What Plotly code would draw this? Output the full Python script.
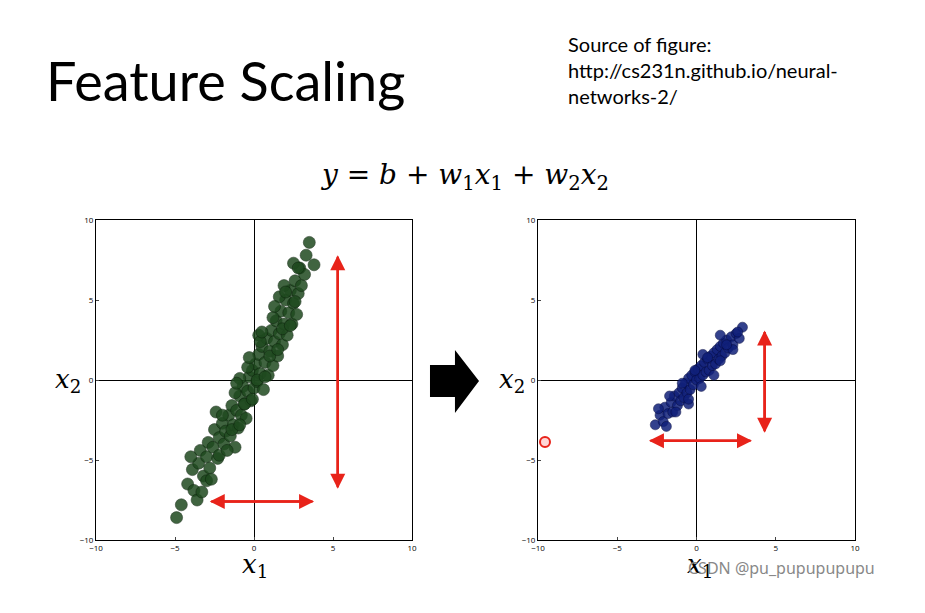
import plotly.graph_objects as go

left_x1 = [-4.6,-4.2,-3.8,-3.9,-3.5,-3.2,-3.4,-3.0,-2.8,-2.9,-2.6,-2.5,-2.3,-2.2,-2.0,-1.9,-1.8,-1.6,-1.5,-1.4,-1.3,-1.1,-1.0,-0.9,-0.8,-0.7,-0.6,-0.5,-0.4,-0.3,-0.2,-0.1,0.0,0.1,0.2,0.3,0.4,0.5,0.6,0.7,0.8,0.9,1.0,1.1,1.2,1.3,1.4,1.5,1.6,1.7,1.8,1.9,2.0,2.1,2.2,2.3,2.4,2.5,2.6,2.7,2.8,2.9,3.0,3.2,3.3,3.5,-3.6,-1.2,1.6,-4.0,2.5,3.8,-4.9,-2.4,0.3,1.9,-0.9,
           -2.0,-1.2,-0.4,0.4,1.2,2.0,2.8,-3.0,-2.2,-1.4,-0.6,0.2,1.0,1.8,2.6,-1.7,-0.9,-0.1,0.7,1.5,2.3,-2.7,-3.3,1.3,0.5,-0.3,-1.1]
left_x2 = [-7.8,-6.5,-6.9,-5.6,-5.2,-6.0,-4.4,-4.8,-5.5,-3.9,-4.2,-3.1,-4.9,-3.6,-2.7,-4.0,-3.2,-2.2,-3.5,-1.6,-2.8,-1.9,-3.0,-1.0,-2.2,-0.4,-1.5,-2.4,-0.7,0.2,-1.3,0.6,-0.5,1.0,-0.1,1.6,0.4,2.1,-0.6,1.1,2.6,0.3,1.8,3.1,0.9,2.4,3.7,1.5,2.9,4.3,2.2,3.5,5.0,2.8,4.2,5.6,3.5,4.8,6.2,4.1,5.4,7.0,5.9,6.6,7.8,8.6,-7.5,-4.2,5.2,-4.8,7.3,7.2,-8.6,-2.0,2.8,5.9,0.1,
           -2.2,-0.8,0.8,2.4,3.9,5.5,7.0,-6.3,-4.7,-3.1,-1.5,0.0,1.5,3.2,4.9,-4.4,-2.8,-1.2,0.2,1.9,3.4,-6.2,-7.0,4.6,3.0,1.4,-0.2]
right_x1 = [-2.6,-2.3,-2.1,-2.0,-1.8,-1.6,-1.5,-1.4,-1.2,-1.1,-1.0,-0.9,-0.8,-0.7,-0.6,-0.5,-0.4,-0.3,-0.2,-0.1,0.0,0.1,0.2,0.3,0.4,0.5,0.6,0.7,0.8,0.9,1.0,1.1,1.2,1.3,1.4,1.5,1.6,1.7,1.8,1.9,2.0,2.2,2.3,2.5,2.7,2.9,-1.9,1.5,0.4,-0.5,
            -1.7,-0.9,-0.1,0.7,1.5,2.3,-1.3,-0.5,0.3,1.1,1.9,-2.4,2.6]
right_x2 = [-2.8,-2.2,-2.6,-1.7,-2.1,-1.4,-2.0,-1.0,-1.6,-0.8,-1.3,-0.5,-1.1,-0.2,-0.8,0.1,-0.6,0.3,-0.3,0.5,0.0,0.7,0.1,0.9,0.3,1.1,0.5,1.3,0.6,1.5,0.9,1.7,1.0,1.9,1.3,2.1,1.5,2.3,1.7,2.5,2.0,2.7,2.2,2.9,2.6,3.3,-2.9,2.8,1.6,-1.5,
            -1.0,-0.2,0.6,1.4,1.2,1.9,-2.0,-1.2,-0.4,0.3,2.2,-1.8,3.0]
tick_vals = [-10, -5, 0, 5, 10]
tick_text = ["−10", "−5", "0", "5", "10"]

W, H, OFF = 925, 613, 8  # page body margin offset compensation
def px(x): return (x - OFF) / W
def py(y): return 1 - (y - OFF) / H

fig = go.Figure()
fig.add_trace(go.Scatter(x=left_x1, y=left_x2, mode="markers", xaxis="x", yaxis="y",
    marker=dict(size=12, color="#1f4a1f", opacity=0.85, line=dict(width=0.6, color="#0a200a"))))
fig.add_trace(go.Scatter(x=right_x1, y=right_x2, mode="markers", xaxis="x2", yaxis="y2",
    marker=dict(size=10, color="#10207a", opacity=0.85, line=dict(width=0.6, color="#050a40"))))

ax = dict(range=[-10, 10], tickvals=tick_vals, ticktext=tick_text, showline=True, mirror=True,
          linecolor="black", linewidth=1, showgrid=False, zeroline=True, zerolinecolor="black",
          zerolinewidth=1, tickfont=dict(size=8, color="black"), ticks="inside", ticklen=3)
fig.update_layout(
    width=W, height=H, margin=dict(l=0, r=0, t=0, b=0, autoexpand=False), showlegend=False,
    paper_bgcolor="white", plot_bgcolor="white",
    xaxis=dict(ax, domain=[px(96), px(412)], anchor="y"),
    yaxis=dict(ax, domain=[py(540), py(220)], anchor="x"),
    xaxis2=dict(ax, domain=[px(538), px(855)], anchor="y2"),
    yaxis2=dict(ax, domain=[py(540), py(220)], anchor="x2"),
)

def dbl(xr, yr, x0, y0, x1, y1):
    for (a, b, c, d) in [(x0, y0, x1, y1), (x1, y1, x0, y0)]:
        fig.add_annotation(xref=xr, yref=yr, axref=xr, ayref=yr, x=c, y=d, ax=a, ay=b,
                           showarrow=True, arrowhead=2, arrowsize=1.2, arrowwidth=2.5,
                           arrowcolor="#e8231a", text="")
dbl("x", "y", 5.3, -6.8, 5.3, 7.8)
dbl("x", "y", -2.8, -7.6, 3.8, -7.6)
dbl("x2", "y2", 4.3, -3.3, 4.3, 3.1)
dbl("x2", "y2", -3.0, -3.8, 3.5, -3.8)

# big black arrow
pts = [(430, 365), (455, 365), (455, 350), (479, 381), (455, 413), (455, 397), (430, 397)]
fig.add_shape(type="path", xref="paper", yref="paper",
    path="M " + " L ".join(f"{px(a):.4f} {py(b):.4f}" for a, b in pts) + " Z",
    fillcolor="black", line=dict(width=0))
fig.add_shape(type="circle", xref="paper", yref="paper", x0=px(540), x1=px(550), y0=py(447), y1=py(437),
              line=dict(color="#e8231a", width=2), fillcolor="rgba(255,120,120,0.3)")

def txt(x, y, s, size, color="black", family="Open Sans", xa="left", ya="middle"):
    fig.add_annotation(xref="paper", yref="paper", x=px(x), y=py(y), text=s, showarrow=False,
                       font=dict(size=size, color=color, family=family), xanchor=xa, yanchor=ya, align="left")

txt(44, 80, "Feature Scaling", 54, family="Lato")
txt(566, 70, "Source of figure:<br>http://cs231n.github.io/neural-<br>networks-2/", 20, family="Lato")
txt(464, 176, "<i>y</i> = <i>b</i> + <i>w</i><sub>1</sub><i>x</i><sub>1</sub> + <i>w</i><sub>2</sub><i>x</i><sub>2</sub>", 28,
    family="DejaVu Serif", xa="center")
txt(255, 565, "<i>x</i><sub>1</sub>", 26, family="DejaVu Serif", xa="center")
txt(700, 565, "<i>x</i><sub>1</sub>", 26, family="DejaVu Serif", xa="center")
txt(68, 380, "<i>x</i><sub>2</sub>", 26, family="DejaVu Serif", xa="center")
txt(512, 380, "<i>x</i><sub>2</sub>", 26, family="DejaVu Serif", xa="center")
txt(686, 568, "CSDN @pu_pupupupupu", 16, color="#888888", family="Noto Sans")

fig.write_html("out.html")
